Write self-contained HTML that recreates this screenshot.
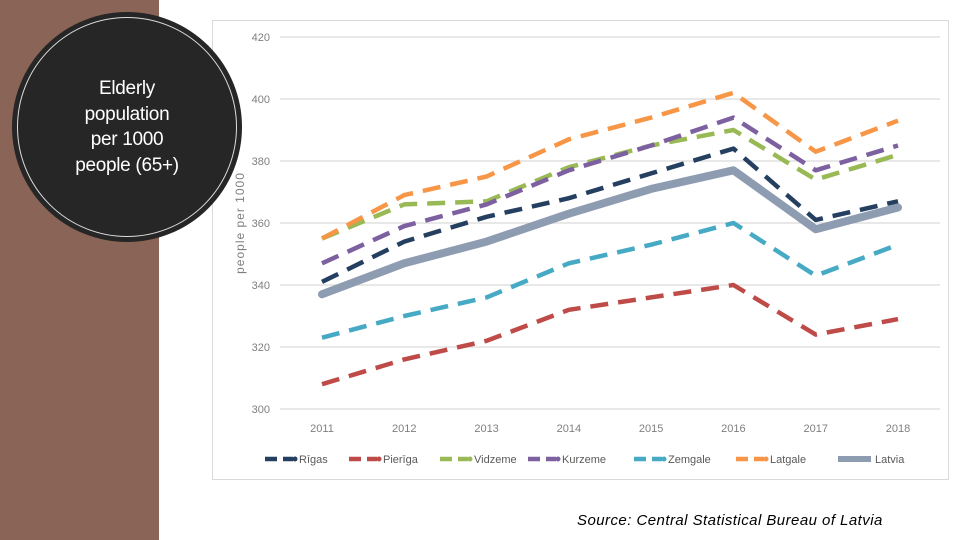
<!DOCTYPE html>
<html><head><meta charset="utf-8"><style>
body{margin:0;width:960px;height:540px;background:#fff;position:relative;overflow:hidden;font-family:"Liberation Sans",sans-serif}
#strip{position:absolute;left:0;top:0;width:159px;height:540px;background:#8a6557}
#circle{position:absolute;left:12px;top:12px;width:226px;height:226px;border-radius:50%;background:#262626;border:2px solid #262626}
#ring{position:absolute;left:17px;top:17px;width:220px;height:220px;border-radius:50%;border:1.5px solid #ddd;box-sizing:border-box}
#title{position:absolute;left:12px;top:76px;width:230px;text-align:center;color:#fff;font-size:19px;line-height:25.5px;letter-spacing:-0.3px}
#chartbox{position:absolute;left:212px;top:20px;width:737px;height:460px;border:1px solid #d9d9d9;box-sizing:border-box;background:#fff}
#source{position:absolute;left:577px;top:512px;font-style:italic;font-size:15px;letter-spacing:0.45px;color:#000}
</style></head><body>
<div id="strip"></div>
<div id="chartbox"></div>
<svg id="chart" width="960" height="540" style="position:absolute;left:0;top:0"></svg>
<div id="circle"></div>
<div id="ring"></div>
<div id="title">Elderly<br>population<br>per 1000<br>people (65+)</div>
<div id="source">Source: Central Statistical Bureau of Latvia</div>
<script>
const years=["2011","2012","2013","2014","2015","2016","2017","2018"];
const yTicks=[300,320,340,360,380,400,420];
const rigas=[341,354,362,368,376,384,361,367];
const pieriga=[308,316,322,332,336,340,324,329];
const vidzeme=[355,366,367,378,385,390,374,382];
const kurzeme=[347,359,366,377,385,394,377,385];
const zemgale=[323,330,336,347,353,360,343,353];
const latgale=[355,369,375,387,394,402,383,393];
const latvia=[337,347,354,363,371,377,358,365];
const seriesNames=["Rīgas","Pierīga","Vidzeme","Kurzeme","Zemgale","Latgale","Latvia"];
const seriesData=[rigas,pieriga,vidzeme,kurzeme,zemgale,latgale,latvia];
const colors=["#243f60","#be4b48","#98b954","#7d60a0","#46aac5","#f79646","#8e9cb1"];
const NS="http://www.w3.org/2000/svg";
const svg=document.getElementById('chart');
const x=i=>322+i*(898-322)/(years.length-1);
const y=v=>409-(v-300)*(409-37)/120;
function mk(t,a){const e=document.createElementNS(NS,t);for(const k in a)e.setAttribute(k,a[k]);svg.appendChild(e);return e;}
yTicks.forEach(v=>{
 const l=mk('line',{x1:280,x2:940,y1:y(v),y2:y(v),stroke:'#d9d9d9','stroke-width':1.3});
 
 
 const t=mk('text',{x:270,y:y(v)+4,'text-anchor':'end','font-size':11,fill:'#7f7f7f'});t.textContent=v;
 
 
});
years.forEach((yr,i)=>{
 const t=mk('text',{x:x(i),y:432,'text-anchor':'middle','font-size':11,fill:'#7f7f7f'});t.textContent=yr;
 
 
});
const yt=mk('text',{x:0,y:0,transform:'translate(244,223) rotate(-90)','text-anchor':'middle','font-size':12,fill:'#7f7f7f','letter-spacing':'1'});yt.textContent='people per 1000';


seriesData.forEach((d,s)=>{
 const pts=d.map((v,i)=>x(i)+','+y(v)).join(' ');
 const solid=s===6;
 const p=mk('polyline',{points:pts,fill:'none',stroke:colors[s],'stroke-width':solid?8:4.5,'stroke-linejoin':'round','stroke-linecap':solid?'round':'butt','stroke-dasharray':solid?'none':'18 10'});
 
 
});
const lx=[265,349,440,528,634,736,838];
seriesNames.forEach((n,s)=>{
 const g=document.createElementNS(NS,'g');svg.appendChild(g);
 
 
 const solid=s===6;
 const l=document.createElementNS(NS,'line');
 const w=solid?33:28;
 Object.entries({x1:lx[s],x2:lx[s]+w,y1:459,y2:459,stroke:colors[s],'stroke-width':solid?6:4.5,'stroke-dasharray':solid?'none':'12 6'}).forEach(([k,v])=>l.setAttribute(k,v));g.appendChild(l);
 let tx=lx[s]+w+4;
 if(!solid){const c=document.createElementNS(NS,'circle');c.setAttribute('cx',lx[s]+w+2);c.setAttribute('cy',459);c.setAttribute('r',2.5);c.setAttribute('fill',colors[s]);g.appendChild(c);tx=lx[s]+w+6;}
 const t=document.createElementNS(NS,'text');t.setAttribute('x',tx);t.setAttribute('y',463);t.setAttribute('font-size',11);t.setAttribute('fill','#595959');t.textContent=n;g.appendChild(t);
});
</script>
</body></html>
